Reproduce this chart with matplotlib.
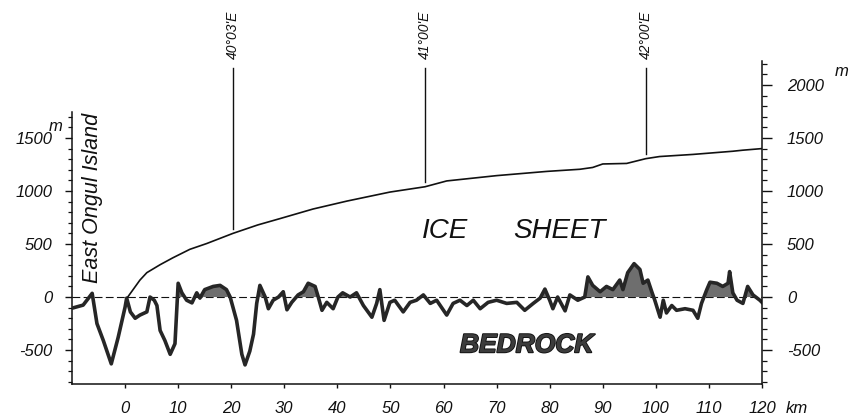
import numpy as np
import matplotlib
matplotlib.use("Agg")
import matplotlib.pyplot as plt
import matplotlib.patheffects as pe
from matplotlib.ticker import FixedLocator, FixedFormatter

# ---------------- data ----------------
ice_km = [0.5, 2.8, 4.1, 6.6, 9.0, 12.2, 15.4, 20.3, 25.0, 29.2, 35.4, 41.8, 49.9,
          56.5, 60.6, 70.0, 79.5, 85.7, 88.1, 90.0, 94.5, 98.1, 100.7, 107.0,
          114.5, 116.4, 120.0]
ice_m = [0, 160, 230, 305, 370, 450, 505, 600, 680, 740, 830, 905, 990,
         1040, 1095, 1145, 1185, 1205, 1222, 1255, 1260, 1305, 1325, 1345,
         1375, 1385, 1400]

bed_km = [-10.0, -7.9, -6.2, -5.3, -4.1, -2.6, -1.3, 0.0, 0.3, 1.0, 1.9, 2.8, 4.1,
          4.7, 5.5, 6.0, 6.6, 7.5, 8.5, 9.4, 10.0, 10.7, 11.6, 12.6, 13.5, 14.1,
          15.0, 16.6, 17.9, 19.1, 19.8, 21.0, 22.0, 22.6, 23.5, 24.2, 24.8, 25.4,
          26.4, 27.0, 27.9, 28.9, 29.8, 30.5, 31.4, 32.6, 33.6, 34.5, 35.8, 36.4,
          37.1, 38.0, 39.2, 40.1, 41.0, 42.4, 43.6, 44.9, 46.5, 47.4, 48.0, 48.8,
          49.9, 50.8, 52.4, 53.7, 54.9, 56.2, 57.5, 58.7, 60.6, 61.8, 63.1, 64.4,
          65.6, 66.9, 68.4, 70.0, 71.9, 73.8, 75.3, 76.9, 78.2, 79.1, 80.0, 80.6,
          81.5, 82.9, 83.8, 85.3, 86.6, 87.2, 88.1, 89.5, 90.7, 91.9, 93.2, 93.8,
          94.7, 95.9, 97.0, 97.6, 98.5, 99.3, 99.8, 100.8, 101.4, 102.0, 103.0,
          103.9, 105.5, 107.0, 107.9, 108.6, 109.6, 110.2, 111.5, 112.6, 113.6,
          113.9, 114.5, 115.3, 116.4, 117.3, 118.3, 119.6, 120.0]
bed_m = [-105, -76, 35, -250, -410, -630, -380, -95, -10, -140, -200, -170, -140,
         0, -30, -80, -315, -410, -540, -440, 130, 40, -30, -55, 40, -10,
         70, 100, 110, 70, 0, -220, -540, -640, -510, -350, -60, 110,
         0, -110, -30, 0, 50, -120, -50, 20, 50, 130, 100, 0,
         -125, -50, -110, 0, 40, 0, 40, -80, -190, -60, 70, -220,
         -50, -30, -140, -50, -30, 20, -60, -30, -170, -60, -30, -80,
         -30, -110, -50, -30, -60, -50, -125, -60, -10, 75, -30, -110,
         0, -130, 20, -30, 0, 190, 110, 50, 100, 70, 160, 70,
         230, 315, 260, 130, 160, 40, -30, -190, -30, -150, -80,
         -125, -110, -125, -200, -60, 70, 140, 130, 100, 130,
         240, 40, -30, -60, 100, 20, -30, -50]

lon_km = [20.3, 56.5, 98.1]
lon_labels = ["40°03'E", "41°00'E", "42°00'E"]

x_ticks = [0, 10, 20, 30, 40, 50, 60, 70, 80, 90, 100, 110, 120]
x_ticklabels = ["0", "10", "20", "30", "40", "50", "60", "70", "80", "90", "100", "110", "120"]
left_ticks = [-500, 0, 500, 1000, 1500]
left_ticklabels = ["-500", "0", "500", "1000", "1500"]
right_ticks = [-500, 0, 500, 1000, 1500, 2000]
right_ticklabels = ["-500", "0", "500", "1000", "1500", "2000"]

# ---------------- figure ----------------
plt.rcParams['font.family'] = ['Liberation Sans', 'DejaVu Sans']
W, H = 858, 417
fig = plt.figure(figsize=(W / 100, H / 100), dpi=100)
ax = fig.add_axes([72 / W, 1 - 384 / H, 690 / W, 323 / H])
ax.set_xlim(-10, 120)
YMIN, YMAX = -820, 2226
ax.set_ylim(YMIN, YMAX)

ink = '#111111'
# zero line
ax.axhline(0, color=ink, lw=0.8, dashes=(7, 3), zorder=1)

# bedrock
bk = np.array(bed_km, float)
bm = np.array(bed_m, float)
ax.fill_between(bk, 0, bm, where=bm > 0, interpolate=True, color='#6e6e6e', lw=0, zorder=2)
ax.plot(bk, bm, color='#262626', lw=2.6, solid_joinstyle='round', zorder=3)

# ice surface
ax.plot(ice_km, ice_m, color=ink, lw=1.2, zorder=3)

# longitude lines
LON_TOP = 2160
for k, lab in zip(lon_km, lon_labels):
    bottom = np.interp(k, ice_km, ice_m) + 45
    ax.plot([k, k], [bottom, LON_TOP], color=ink, lw=1.0, zorder=3, clip_on=False)
    ax.text(k, 2475, lab, rotation=90, ha='center', va='center', fontsize=10,
            style='italic', color=ink, clip_on=False)

# spines
ax.spines['top'].set_visible(False)
ax.spines['right'].set_visible(False)
ax.spines['left'].set_bounds(YMIN, 1745)
for s in ['left', 'bottom']:
    ax.spines[s].set_linewidth(1.1)
    ax.spines[s].set_color(ink)

ax.xaxis.set_major_locator(FixedLocator(x_ticks))
ax.xaxis.set_major_formatter(FixedFormatter(x_ticklabels))
ax.yaxis.set_major_locator(FixedLocator(left_ticks))
ax.yaxis.set_major_formatter(FixedFormatter(left_ticklabels))
ax.yaxis.set_minor_locator(FixedLocator(np.arange(-800, 1701, 100)))
ax.tick_params(axis='x', which='major', direction='out', length=3, width=1.0,
               pad=9, labelsize=12, colors=ink)
ax.tick_params(axis='y', which='major', direction='out', length=5, width=1.0,
               pad=9, labelsize=12, colors=ink)
ax.tick_params(axis='y', which='minor', direction='out', length=3, width=0.9, colors=ink)
for t in ax.get_xticklabels() + ax.get_yticklabels():
    t.set_fontstyle('italic')

ax2 = ax.twinx()
ax2.set_ylim(YMIN, YMAX)
for s in ['top', 'left', 'bottom']:
    ax2.spines[s].set_visible(False)
ax2.spines['right'].set_linewidth(1.1)
ax2.spines['right'].set_color(ink)
ax2.yaxis.set_major_locator(FixedLocator(right_ticks))
ax2.yaxis.set_major_formatter(FixedFormatter(right_ticklabels))
ax2.yaxis.set_minor_locator(FixedLocator(np.arange(-800, 2201, 100)))
ax2.tick_params(axis='y', which='major', direction='out', length=7, width=1.0,
                pad=11, labelsize=12, colors=ink)
ax2.tick_params(axis='y', which='minor', direction='out', length=3.5, width=0.9, colors=ink)
for t in ax2.get_yticklabels():
    t.set_fontstyle('italic')

# units
ax.text(-13.0, 1610, 'm', fontsize=12, style='italic', ha='center', va='center',
        color=ink, clip_on=False)
ax.text(135.0, 2130, 'm', fontsize=12, style='italic', ha='center', va='center',
        color=ink, clip_on=False)
ax.text(124.5, -0.09, 'km', transform=ax.get_xaxis_transform(), fontsize=12,
        style='italic', ha='left', va='baseline', color=ink, clip_on=False)

# annotations
ax.text(55.9, 620, 'ICE', fontsize=20, style='italic', ha='left', va='center',
        color=ink)
ax.text(73.1, 620, 'SHEET', fontsize=20, style='italic', ha='left', va='center',
        color=ink)
ax.text(63.1, -455, 'BEDROCK', fontsize=19, style='italic', weight='bold',
        ha='left', va='center', color='#3c3c3c',
        path_effects=[pe.withStroke(linewidth=1.3, foreground='#111111')])
ax.text(-6.2, 930, 'East Ongul Island', rotation=90, fontsize=15.5, style='italic',
        ha='center', va='center', color=ink)

fig.savefig('out.png', dpi=100)
